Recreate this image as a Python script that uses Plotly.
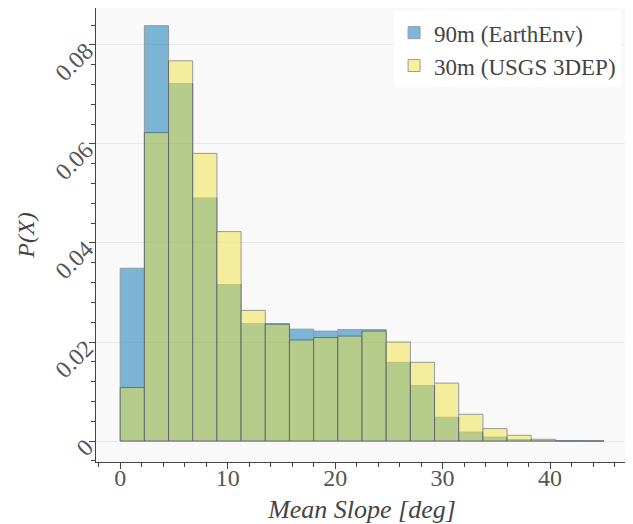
import plotly.graph_objects as go

# Bin edges: 20 bins of 2.25 deg from 0 to 45
bin_width = 2.25
bin_starts = [i * 2.25 for i in range(20)]

# Probability density per bin
p_90m = [0.0349, 0.0839, 0.0722, 0.0491, 0.0316, 0.0237, 0.0237, 0.0226, 0.0222, 0.0225,
         0.0225, 0.0159, 0.0112, 0.0048, 0.0018, 0.0008, 0.0003, 0.0001, 0.00005, 0.00002]
p_30m = [0.0108, 0.0623, 0.0768, 0.0581, 0.0423, 0.0264, 0.0236, 0.0204, 0.0209, 0.0212,
         0.0222, 0.0200, 0.0159, 0.0117, 0.0054, 0.0025, 0.00115, 0.00035, 0.0, 0.0]

names = ["90m (EarthEnv)", "30m (USGS 3DEP)"]
colors = ["#0072B2", "#F0E442"]

x_centers = [s + bin_width / 2 for s in bin_starts]

fig = go.Figure()
for vals, name, col in zip([p_90m, p_30m], names, colors):
    fig.add_trace(go.Bar(
        x=x_centers, y=vals, width=[bin_width] * len(vals), name=name,
        marker=dict(color=col, line=dict(color="rgba(50,60,70,1)", width=1)),
        opacity=0.5,
    ))

font_family = "Liberation Serif, Times New Roman, serif"
fig.update_layout(
    width=625, height=516,
    barmode="overlay",
    paper_bgcolor="white",
    plot_bgcolor="#f9f9f9",
    margin=dict(l=88, r=5, t=0, b=62, autoexpand=False),
    font=dict(family=font_family, size=24, color="#444"),
    legend=dict(x=0.987, y=0.993, xanchor="right", yanchor="top",
                bgcolor="white", font=dict(size=23, color="#444"),
                itemwidth=30, tracegroupgap=0),
    showlegend=True,
)
fig.update_xaxes(
    range=[-2.25, 47.25], dtick=10, tick0=0, automargin=False,
    ticks="outside", ticklen=6, tickcolor="#444",
    showline=True, linecolor="#444", linewidth=1,
    showgrid=False, zeroline=False,
    minor=dict(dtick=2, ticks="outside", ticklen=4, tickcolor="#444"),
    tickfont=dict(size=24, color="#555"), ticklabelstandoff=-12,
    title=dict(text="<i>Mean Slope [deg]</i>", font=dict(size=26, color="#444"), standoff=11),
)
fig.update_yaxes(
    range=[-0.00424, 0.08747], dtick=0.02, tick0=0, automargin=False,
    ticks="outside", ticklen=6, tickcolor="#444",
    showline=True, linecolor="#444", linewidth=1,
    showgrid=True, gridcolor="#e8e8e8", zeroline=False,
    minor=dict(dtick=0.004, ticks="outside", ticklen=4, tickcolor="#444", showgrid=False),
    tickangle=-45, tickformat="~g",
    tickfont=dict(size=24, color="#555"), ticklabelstandoff=-2, ticklabelshift=3,
    title=dict(text="<i>P(X)</i>", font=dict(size=24, color="#444"), standoff=8),
)

fig.write_html("out.html")
